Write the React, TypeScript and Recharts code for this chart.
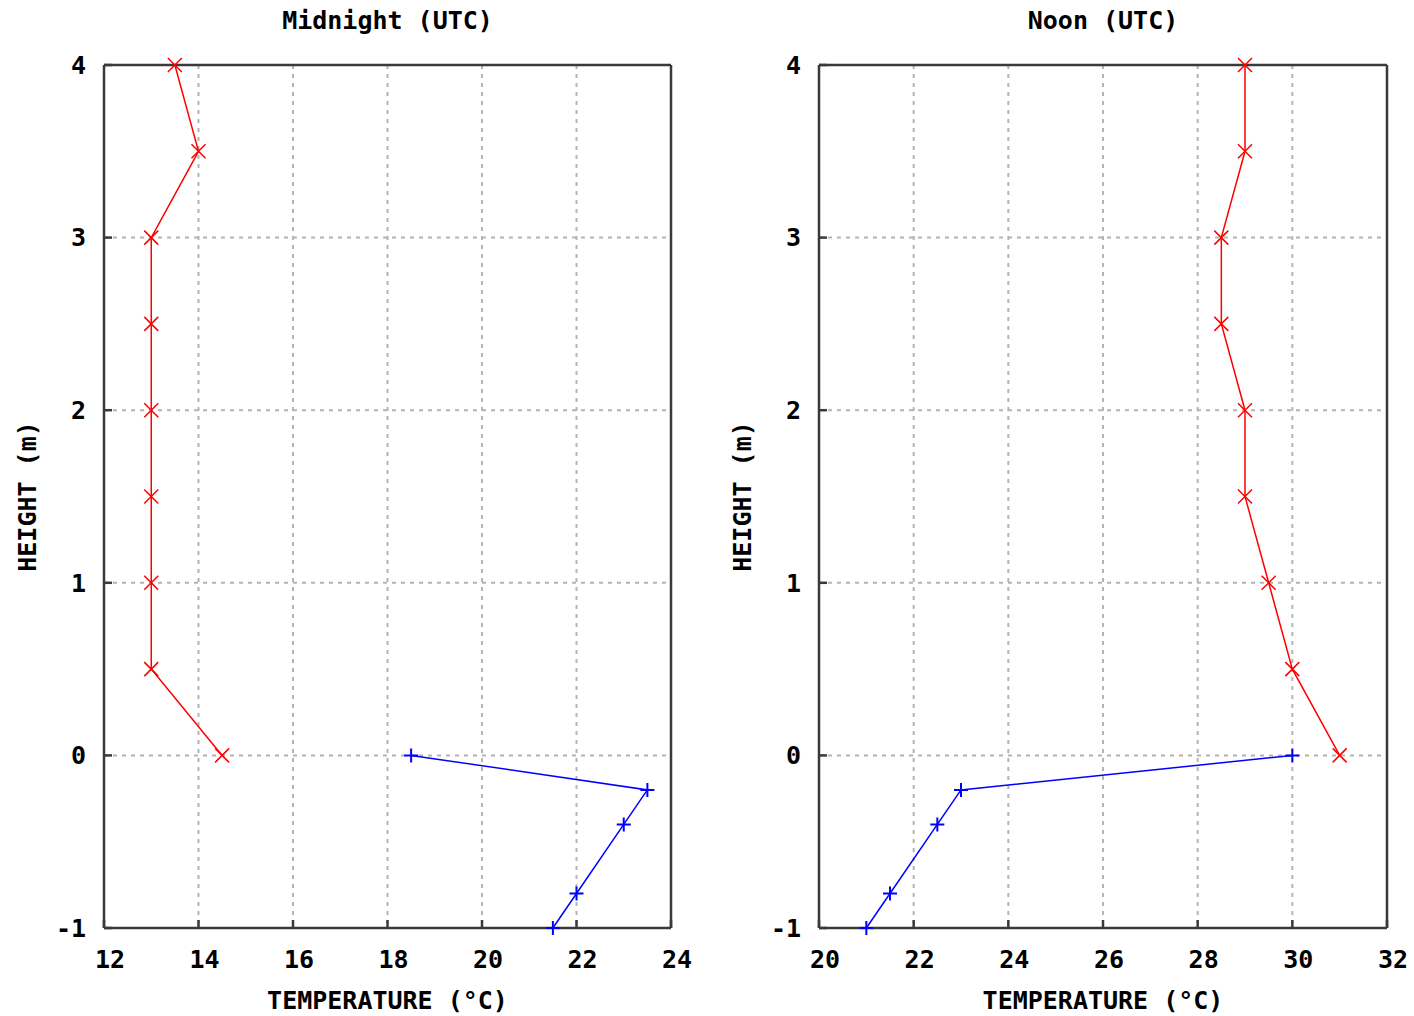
import { ScatterChart, Scatter, XAxis, YAxis, CartesianGrid, Label } from "recharts";

// heights (m) above / below ground
const airHeights = [0, 0.5, 1, 1.5, 2, 2.5, 3, 3.5, 4];
const soilHeights = [0, -0.2, -0.4, -0.8, -1];

// temperatures (°C)
const midnightAir = [14.5, 13, 13, 13, 13, 13, 13, 14, 13.5];
const midnightSoil = [18.5, 23.5, 23, 22, 21.5];
const noonAir = [31, 30, 29.5, 29, 29, 28.5, 28.5, 29, 29];
const noonSoil = [30, 23, 22.5, 21.5, 21];

const midnightTicks = [12, 14, 16, 18, 20, 22, 24];
const noonTicks = [20, 22, 24, 26, 28, 30, 32];
const heightTicks = [-1, 0, 1, 2, 3, 4];

const FONT = "'DejaVu Sans Mono', monospace";
const txt = { fontFamily: FONT, fontWeight: "bold", fontSize: 25, fill: "#000" };
const AXIS = "#3a3a3a";
const axisLine = { stroke: AXIS, strokeWidth: 2.5 };
const tickLine = { stroke: AXIS, strokeWidth: 2.5 };

const toPoints = (temps: number[], heights: number[]) =>
  temps.map((t, i) => ({ t, h: heights[i] }));

const Cross = (props: any) => {
  const { cx, cy } = props;
  const s = 7;
  return (
    <path
      d={`M${cx - s},${cy - s}L${cx + s},${cy + s}M${cx - s},${cy + s}L${cx + s},${cy - s}`}
      stroke="#ff0000"
      strokeWidth={1.5}
      fill="none"
    />
  );
};

const Plus = (props: any) => {
  const { cx, cy } = props;
  const s = 7;
  return (
    <path
      d={`M${cx - s},${cy}L${cx + s},${cy}M${cx},${cy - s}L${cx},${cy + s}`}
      stroke="#0000ff"
      strokeWidth={2}
      fill="none"
    />
  );
};

function Panel({ title, air, soil, ticks, left, right, labelX }: any) {
  const domain: [number, number] = [ticks[0], ticks[ticks.length - 1]];
  return (
    <ScatterChart
      width={707}
      height={1016}
      margin={{ top: 64, right: right - 1, bottom: 0, left: 0 }}
    >
      <CartesianGrid stroke="#b4b4b4" strokeDasharray="4 5" strokeWidth={2} />
      <XAxis
        dataKey="t"
        type="number"
        domain={domain}
        ticks={ticks}
        interval={0}
        height={88}
        axisLine={axisLine}
        tickLine={tickLine}
        tickSize={-8}
        tickMargin={30}
        tick={{ ...txt, dx: 6 }}
      >
        <Label value="TEMPERATURE (°C)" position="insideBottom" offset={7} style={txt} />
      </XAxis>
      <XAxis
        xAxisId="top"
        orientation="top"
        dataKey="t"
        type="number"
        domain={domain}
        ticks={ticks}
        interval={0}
        height={1}
        axisLine={axisLine}
        tickLine={tickLine}
        tickSize={-8}
        tickFormatter={() => ""}
      >
        <Label value={title} position="top" offset={35} style={txt} />
      </XAxis>
      <YAxis
        dataKey="h"
        type="number"
        domain={[-1, 4]}
        ticks={heightTicks}
        interval={0}
        width={left}
        axisLine={axisLine}
        tickLine={tickLine}
        tickSize={-8}
        tickMargin={26}
        tick={txt}
      >
        <Label
          value="HEIGHT (m)"
          angle={-90}
          position="insideLeft"
          offset={labelX}
          style={{ ...txt, textAnchor: "middle" }}
        />
      </YAxis>
      <YAxis
        yAxisId="right"
        orientation="right"
        dataKey="h"
        type="number"
        domain={[-1, 4]}
        ticks={heightTicks}
        interval={0}
        width={1}
        axisLine={axisLine}
        tickLine={tickLine}
        tickSize={-8}
        tickFormatter={() => ""}
      />
      <Scatter
        data={toPoints(air, airHeights)}
        line={{ stroke: "#ff0000", strokeWidth: 1.5 }}
        shape={<Cross />}
        isAnimationActive={false}
      />
      <Scatter
        data={toPoints(soil, soilHeights)}
        line={{ stroke: "#0000ff", strokeWidth: 1.5 }}
        shape={<Plus />}
        isAnimationActive={false}
      />
    </ScatterChart>
  );
}

export default function App() {
  return (
    <div
      style={{
        position: "absolute",
        left: 0,
        top: 0,
        width: 1414,
        height: 1016,
        display: "flex",
        background: "#fff",
      }}
    >
      <Panel
        title="Midnight (UTC)"
        air={midnightAir}
        soil={midnightSoil}
        ticks={midnightTicks}
        left={104}
        right={36}
        labelX={27}
      />
      <Panel
        title="Noon (UTC)"
        air={noonAir}
        soil={noonSoil}
        ticks={noonTicks}
        left={112}
        right={27}
        labelX={35}
      />
    </div>
  );
}
